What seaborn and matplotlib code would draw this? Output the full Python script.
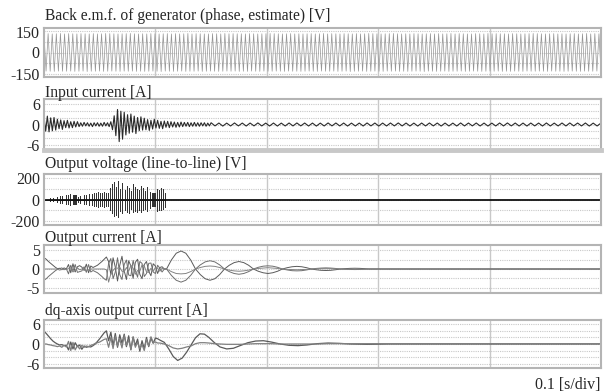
import numpy as np
import pandas as pd
import matplotlib
matplotlib.use("Agg")
import matplotlib.pyplot as plt
import seaborn as sns

sns.set_style("white")
plt.rcParams["font.family"] = ["Liberation Serif", "DejaVu Serif"]

# --------------------------------------------------
# data (0.5 s across, 0.1 s/div)
# --------------------------------------------------

titles = [
    "Back e.m.f. of generator (phase, estimate) [V]",
    "Input current [A]",
    "Output voltage (line-to-line) [V]",
    "Output current [A]",
    "dq-axis output current [A]",
]
ytick_sets = [[-150, 0, 150], [-6, 0, 6], [-200, 0, 200], [-5, 0, 5], [-6, 0, 6]]
xlabel = "0.1 [s/div]"
t_end = 0.5

# back emf: peak of every half cycle
emf_peaks = [
    134, -133, 135, -134, 133, -135, 134, -133, 136, -134, 133, -134, 135, -133, 134, -135,
    133, -134, 135, -133, 134, -136, 133, -134, 135, -134, 133, -133, 134, -135, 136, -134,
    135, -133, 134, -134, 133, -135, 134, -133, 135, -134, 136, -133, 134, -135, 133, -134,
    134, -135, 133, -134, 135, -133, 134, -134, 133, -136, 134, -133, 135, -134, 133, -135,
    135, -134, 133, -133, 134, -135, 136, -134, 133, -134, 135, -133, 134, -135, 133, -134,
    133, -133, 135, -134, 134, -135, 133, -134, 136, -133, 134, -134, 135, -133, 134, -135,
    134, -134, 133, -135, 135, -133, 134, -134, 133, -135, 134, -133, 135, -134, 136, -134,
    135, -133, 134, -134, 133, -135, 134, -133, 135, -134, 133, -134, 134, -135, 133, -134,
    134, -133, 135, -134, 133, -135, 134, -133, 136, -134, 133, -134, 135, -133, 134, -135,
    133, -134, 135, -133, 134, -136, 133, -134, 135, -134, 133, -133, 134, -135, 136, -134,
    135, -133, 134, -134, 133, -135, 134, -133, 135, -134, 136, -133, 134, -135, 133, -134,
    134, -135, 133, -134, 135, -133, 134, -134, 133, -136, 134, -133, 135, -134, 133, -135,
    135, -134, 133, -133, 134, -135, 136, -134, 133, -134, 135, -133, 134, -135, 133, -134,
    133, -133, 135, -134, 134, -135, 133, -134, 136, -133, 134, -134, 135, -133, 134, -135,
    134, -134, 133, -135, 135, -133, 134, -134, 133, -135, 134, -133, 135, -134, 136, -134,
    135, -133, 134, -134, 133, -135, 134, -133, 135, -134, 133, -134, 134, -135, 133, -134,
    134, -133, 135, -134, 133, -135, 134, -133, 136, -134, 133, -134, 135, -133, 134, -135,
]

# input current: burst part (0 - 0.15 s, 1.5 ms steps) and small ripple tail
input_burst = [
    2.2, -1.9, 2.4, -2.1, 1.9, -1.8, 2.0, -1.6,
    1.5, -1.2, 1.3, -1.4, 1.1, -0.9, 1.2, -1.0, 0.8, -0.9, 0.9, -0.7, 0.8,
    -0.6, 0.5, -0.5, 0.6, -0.4, 0.5, -0.5, 0.4, -0.6, 0.5, -0.4, 0.5, -0.5, 0.4, -0.5, 0.6, -0.4, 0.5, -0.6, 0.8,
    -1.5, 2.5, -3.2, 4.3, -4.9, 3.8, -4.2, 3.5,
    -3.0, 2.8, -2.5, 3.0, -2.2, 2.4, -2.6, 2.0, -1.8, 2.2, -1.6, 1.8,
    -1.5, 1.4, -1.7, 1.2, -1.3, 1.5, -1.0, 1.2, -1.1, 0.9, -1.2, 1.0, -0.8, 0.9, -0.9,
    0.8, -0.7, 0.7, -0.8, 0.6, -0.7, 0.7, -0.6, 0.6, -0.5, 0.6, -0.6, 0.5, -0.5, 0.6, -0.5,
    0.5, -0.5, 0.5, -0.4, 0.5, -0.5, 0.4, -0.4, 0.5,
]
input_tail = [
    -0.40, 0.42, -0.45, 0.40, -0.42, 0.44, -0.40, 0.41, -0.44, 0.42, -0.40, 0.45, -0.41, 0.40, -0.43, 0.42, -0.44, 0.40, -0.42, 0.43,
    -0.41, 0.44, -0.40, 0.42, -0.43, 0.41, -0.45, 0.40, -0.42, 0.44, -0.40, 0.43, -0.41, 0.42, -0.44, 0.40, -0.42, 0.41, -0.43, 0.44,
    -0.40, 0.42, -0.44, 0.41, -0.42, 0.43, -0.40, 0.44, -0.41, 0.42, -0.43, 0.40, -0.44, 0.42, -0.41, 0.43, -0.40, 0.42, -0.44, 0.41,
    -0.42, 0.40, -0.43, 0.44, -0.41, 0.42, -0.40, 0.43, -0.42, 0.41, -0.44, 0.40, -0.42, 0.43, -0.41, 0.44, -0.40, 0.42, -0.43, 0.41,
    -0.44, 0.42, -0.40, 0.41, -0.43, 0.44, -0.42, 0.40, -0.41, 0.43, -0.42, 0.44, -0.40, 0.42, -0.41, 0.43, -0.44, 0.40, -0.42, 0.41,
]

# output voltage: PWM pulse bursts (time in ms, top and bottom of each bar), zero afterwards
volt_pulse_ms = [
    0.0, 5.4, 8.1, 11.7, 14.4, 16.2, 19.8, 21.6, 23.4, 26.0, 26.8, 27.4, 28.2, 28.8, 30.6,
    32.4, 36.0, 37.8, 40.5, 43.2, 45.0, 46.8, 48.6, 50.4, 52.2, 54.0, 55.8, 57.6,
    59.4, 61.2, 63.0, 64.7, 66.5, 68.3, 70.1, 72.8, 74.6, 76.4, 78.2, 80.0, 81.8, 83.6,
    85.4, 87.2, 89.0, 90.8, 92.6, 95.3, 97.1, 97.8, 98.5, 99.2, 99.8, 101.6, 103.4, 105.2, 107.0, 108.8,
]
volt_up = [
    85, 15, 15, 25, 30, 30, 45, 45, 50, 40, 45, 40, 45, 40, 20,
    35, 40, 45, 50, 55, 60, 65, 70, 60, 65, 70, 60, 65,
    110, 140, 160, 120, 170, 100, 150, 90, 130, 110, 80, 140, 120, 100,
    90, 130, 110, 80, 120, 70, 60, 65, 60, 65, 60, 100, 90, 110, 95, 60,
]
volt_down = [
    85, 15, 15, 25, 30, 30, 45, 45, 50, 40, 45, 40, 45, 40, 20,
    35, 40, 45, 50, 55, 60, 65, 70, 60, 65, 70, 60, 65,
    100, 130, 150, 140, 160, 110, 130, 100, 120, 130, 90, 120, 110, 120,
    100, 120, 100, 90, 110, 80, 60, 65, 60, 65, 60, 110, 100, 100, 90, 70,
]

# output current, three phases: start-up part (2 ms steps, 0 - 0.108 s)
cur_a_early = [
    3.0, 2.6, 2.0, 1.5, 1.0, 0.5, 0.1, 0.2, -0.2, 0.3, 0.0, 1.2, -1.0, 1.4, -0.8, 0.6, 0.9, 0.5, -0.4, 1.3,
    -1.0, 0.8, 0.4, 0.7, 1.0, 1.5, 2.0, 2.6, 3.2, 2.0, -1.5, 3.0, 0.5, -3.2, 1.0, 3.4, -0.5, -2.8, 2.2, 0.8,
    -2.5, 1.8, 2.6, -1.4, -2.6, 1.2, 2.0, -0.6, -1.8, 1.4, 0.8, -1.2, 0.4, 0.6, 0.0,
]
cur_b_early = [
    -3.0, -2.6, -2.0, -1.5, -1.0, -0.5, -0.1, 0.1, 0.3, -0.2, 0.1, -1.3, 1.0, -0.6, 1.2, -0.9, -0.7, -0.5, 0.6, -0.9,
    1.2, -0.8, -0.4, -0.7, -1.0, -1.5, -2.0, -2.6, -3.0, 1.5, 2.8, -2.6, -0.8, 3.0, -1.5, -2.8, 1.2, 2.4, -1.6, -1.8,
    2.3, -0.4, -2.2, 2.0, 1.5, -2.0, -1.2, 1.5, 1.6, -0.8, -1.2, 1.0, 0.2, -0.8, 0.0,
]
cur_c_early = [
    0.0, 0.0, 0.0, 0.0, 0.0, 0.0, 0.0, -0.3, -0.1, -0.1, -0.1, 0.1, 0.0, -0.8, -0.4, 0.3, -0.2, 0.0, -0.2, -0.4,
    -0.2, 0.0, 0.0, 0.0, 0.0, 0.0, 0.0, 0.0, -0.2, -3.5, -1.3, -0.4, 0.3, 0.2, 0.5, -0.6, -0.7, 0.4, -0.6, 1.0,
    0.2, -1.4, -0.4, -0.6, 1.1, 0.8, -0.8, -0.9, 0.2, -0.6, 0.4, 0.2, -0.6, 0.2, 0.0,
]
# output current after the converter stops (decaying lobes, 0.11 - 0.29 s)
cur_a_late = [
    0, 2.4, 4.2, 4.8, 4.2, 2.4, 0, -1.5, -2.6, -3.0, -2.6, -1.5, 0, 1.0, 1.7, 2.0, 1.7, 1.0,
    0, -0.6, -1.0, -1.2, -1.0, -0.6, 0, 0.35, 0.6, 0.7, 0.6, 0.35, 0, -0.2, -0.35, -0.4, -0.35, -0.2,
    0, 0.1, 0.17, 0.2, 0.17, 0.1, 0, 0,
]
cur_b_late = [
    0, -1.7, -3.0, -3.5, -3.0, -1.7, 0, 1.1, 1.9, 2.2, 1.9, 1.1, 0, -0.7, -1.2, -1.4, -1.2, -0.7,
    0, 0.45, 0.75, 0.85, 0.75, 0.45, 0, -0.25, -0.45, -0.5, -0.45, -0.25, 0, 0.15, 0.25, 0.3, 0.25, 0.15,
    0, -0.07, -0.12, -0.15, -0.12, -0.07, 0, 0,
]
cur_c_late = [
    0, -0.7, -1.2, -1.3, -1.2, -0.7, 0, 0.4, 0.7, 0.8, 0.7, 0.4, 0, -0.3, -0.5, -0.6, -0.5, -0.3,
    0, 0.15, 0.25, 0.35, 0.25, 0.15, 0, -0.1, -0.15, -0.2, -0.15, -0.1, 0, 0.05, 0.1, 0.1, 0.1, 0.05,
    0, -0.03, -0.05, -0.05, -0.05, -0.03, 0, 0,
]

# dq-axis current: start-up part (2 ms steps, 0 - 0.104 s)
id_early = [
    3.9, 3.2, 2.4, 1.6, 0.9, 0.4, 0.0, -0.3, -0.2, -0.5, -0.4, -1.8, 0.6, -1.5, 0.4, -0.8, -0.3, -1.6, -0.6, -1.0,
    -0.8, -0.9, -0.5, 0.0, 0.8, 1.6, 2.5, 3.4, 4.0, 1.0, 3.6, -0.5, 3.2, -1.0, 2.8, 0.2, 3.0, -0.8, 2.5, -1.8,
    2.2, -0.5, 1.5, -2.2, 1.0, -1.5, 2.0, -0.8, 1.8, 0.2, 1.8, 1.6, 1.2,
]
iq_early = [
    0.0, 0.0, -0.2, -0.3, -0.5, -0.6, -0.8, -0.6, -1.0, -0.4, -0.9, 0.8, -2.0, 0.5, -1.8, -0.5, -1.5, -0.4, -1.0, -0.6,
    -0.8, -0.4, -0.2, 0.2, 0.4, 0.6, 1.0, 1.4, 1.6, -1.0, 2.0, -1.4, 2.4, -0.6, 1.5, -1.2, 2.6, -0.4, 1.2, -1.6,
    2.0, -1.0, 0.5, -1.4, -0.2, -2.0, 1.4, -0.6, 2.2, 0.5, 0.6, 0.3, 0.3,
]
# dq-axis current: damped swing afterwards
dq_late_t = [
    0.108, 0.112, 0.116, 0.120, 0.124, 0.128, 0.132, 0.136, 0.140, 0.144, 0.148, 0.153, 0.158, 0.164,
    0.170, 0.176, 0.183, 0.190, 0.197, 0.204, 0.212, 0.220, 0.228, 0.236, 0.245, 0.255, 0.265, 0.275,
    0.290, 0.310, 0.500,
]
id_late = [
    0.5, -1.5, -3.8, -5.0, -4.3, -2.5, -0.3, 1.9, 3.1, 3.0, 2.0, 0.4, -0.9, -1.5,
    -1.3, -0.5, 0.4, 0.9, 1.0, 0.6, 0.0, -0.4, -0.5, -0.3, 0.1, 0.3, 0.2, 0.0,
    -0.1, 0.0, 0.0,
]
iq_late = [
    0.0, -0.5, -1.2, -1.5, -1.3, -0.9, -0.6, 0.1, 0.4, 0.4, 0.3, 0.1, 0.0, -0.1,
    -0.1, -0.1, 0.0, 0.1, 0.1, 0.1, 0.0, 0.0, 0.0, 0.0, 0.0, 0.1, 0.1, 0.1,
    0.1, 0.1, 0.1,
]

# --------------------------------------------------
# build tables
# --------------------------------------------------

emf_df = pd.DataFrame({"t": np.linspace(0, t_end, len(emf_peaks)), "v": emf_peaks})

t_in = np.concatenate([np.linspace(0, 0.15, len(input_burst)),
                       np.linspace(0.1535, t_end, len(input_tail))])
input_df = pd.DataFrame({"t": t_in, "v": input_burst + input_tail})

# each pulse drawn as a vertical bar: 0 -> top -> bottom -> 0 at the same instant
volt_t, volt_v = [], []
for ms, up, down in zip(volt_pulse_ms, volt_up, volt_down):
    volt_t += [ms / 1000] * 4
    volt_v += [0, up, -down, 0]
volt_df = pd.DataFrame({"t": volt_t, "v": volt_v})
volt_zero = pd.DataFrame({"t": [0, t_end], "v": [0, 0]})

t_cur = np.concatenate([np.arange(len(cur_a_early)) * 0.002,
                        np.linspace(0.11, 0.292, len(cur_a_late) - 1), [t_end]])
cur_df = pd.concat([
    pd.DataFrame({"t": t_cur, "v": cur_a_early + cur_a_late, "phase": "a"}),
    pd.DataFrame({"t": t_cur, "v": cur_b_early + cur_b_late, "phase": "b"}),
    pd.DataFrame({"t": t_cur, "v": cur_c_early + cur_c_late, "phase": "c"}),
])

t_dq = np.concatenate([np.arange(len(id_early)) * 0.002, dq_late_t])
dq_df = pd.concat([
    pd.DataFrame({"t": t_dq, "v": id_early + id_late, "axis": "d"}),
    pd.DataFrame({"t": t_dq, "v": iq_early + iq_late, "axis": "q"}),
])

# --------------------------------------------------
# figure
# --------------------------------------------------

W, H = 605, 392
fig = plt.figure(figsize=(W / 100, H / 100), dpi=100)

# (top, bottom) of each panel in pixels, title baseline in pixels
panel_px = [(28, 77), (99, 150), (174, 225), (245, 293), (320, 368)]
title_base = [20, 97, 168, 242, 315]
ylims = [175, 7.3, 237, 6.4, 7.3]
grid_sets = [[-150, -75, 0, 75, 150], [-6, -4, -2, 0, 2, 4, 6], [-200, -100, 0, 100, 200],
             [-5, -2.5, 0, 2.5, 5], [-6, -4, -2, 0, 2, 4, 6]]
left, right = 44, 601

axes = []
for (top, bot), tb, title in zip(panel_px, title_base, titles):
    ax = fig.add_axes([left / W, 1 - bot / H, (right - left) / W, (bot - top) / H])
    fig.text((left + 1) / W, 1 - tb / H, title, ha="left", va="baseline", fontsize=11.2)
    axes.append(ax)

sns.lineplot(data=emf_df, x="t", y="v", ax=axes[0], color="#959595", lw=0.5,
             estimator=None, sort=False)
sns.lineplot(data=input_df, x="t", y="v", ax=axes[1], color="#2a2a2a", lw=0.8,
             estimator=None, sort=False)
sns.lineplot(data=volt_df, x="t", y="v", ax=axes[2], color="#333333", lw=0.7,
             estimator=None, sort=False)
sns.lineplot(data=volt_zero, x="t", y="v", ax=axes[2], color="#111111", lw=1.3,
             estimator=None, sort=False)
sns.lineplot(data=cur_df, x="t", y="v", hue="phase", ax=axes[3],
             palette=["#5a5a5a", "#6e6e6e", "#848484"], lw=0.7,
             estimator=None, sort=False, legend=False)
sns.lineplot(data=dq_df, x="t", y="v", hue="axis", ax=axes[4],
             palette=["#5a5a5a", "#808080"], lw=0.9,
             estimator=None, sort=False, legend=False)

for ax, yl, ticks, grid in zip(axes, ylims, ytick_sets, grid_sets):
    ax.set_xlim(0, t_end)
    ax.set_ylim(-yl, yl)
    ax.set_yticks(ticks)
    ax.set_yticklabels([str(v) for v in ticks], fontsize=11.5)
    ax.set_xticks([])
    ax.set_xlabel("")
    ax.set_ylabel("")
    ax.tick_params(length=0, pad=3)
    for g in grid:
        ax.axhline(g, color="#c8c8c8", lw=0.8, ls=(0, (1, 1)), zorder=0)
    for xv in [0.1, 0.2, 0.3, 0.4]:
        ax.axvline(xv, color="#c8c8c8", lw=1.0, zorder=0)
    for s in ax.spines.values():
        s.set_color("#b4b4b4")
        s.set_linewidth(1.5)

axes[1].spines["bottom"].set_linewidth(3.5)
axes[1].spines["bottom"].set_color("#c8c8c8")

fig.text(600 / W, 1 - 389 / H, xlabel, ha="right", va="baseline", fontsize=11.4)

fig.savefig("out.png", dpi=100)
